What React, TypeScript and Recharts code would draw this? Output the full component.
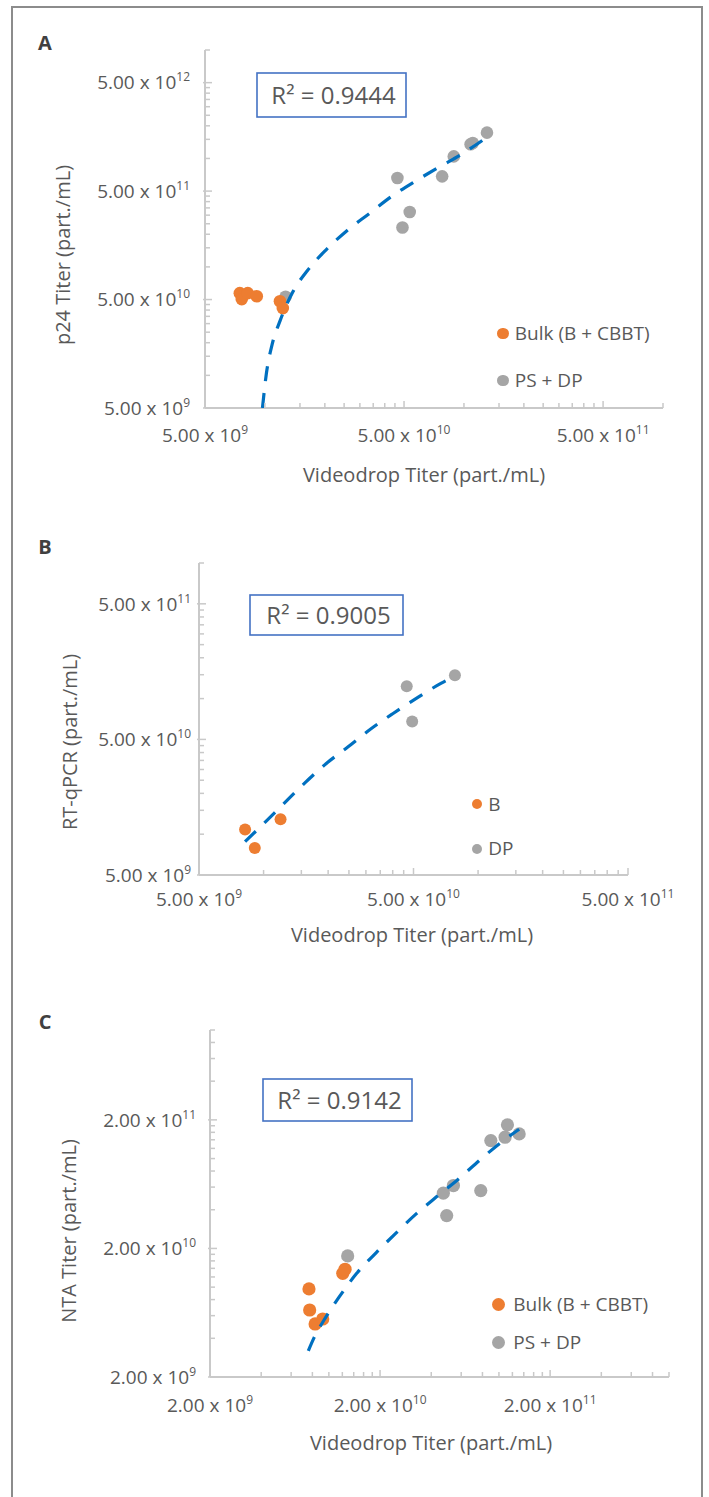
import React from 'react';
import { ScatterChart, Scatter, XAxis, YAxis, Legend } from 'recharts';

// the figure frame sits in the 8px page margin, so drop the body margin
if (typeof document !== 'undefined') document.body.style.margin = '0';

const ORANGE = '#ED7D31';
const GRAY = '#A5A5A5';
const TREND = '#0070C0';
const AXIS = '#C9C9C9';
const TEXT = '#595959';
const FONT = '"Open Sans", sans-serif';

// Excel log axis: minor ticks at 2x..9x of each major
const MINOR_STEPS = [2, 3, 4, 5, 6, 7, 8, 9];

// ---- Panel A: p24 vs Videodrop ----
const A_X_MAJOR = [5e9, 5e10, 5e11];
const A_Y_MAJOR = [5e9, 5e10, 5e11, 5e12];
const A_X_DOMAIN = [5e9, 1e12];
const A_Y_DOMAIN = [5e9, 1e13];
const A_NAMES = ['Bulk (B + CBBT)', 'PS + DP'];
const A_BULK_X = [7.48e9, 7.65e9, 8.2e9, 9.1e9, 1.19e10, 1.23e10];
const A_BULK_Y = [5.73e10, 5.05e10, 5.73e10, 5.37e10, 4.83e10, 4.17e10];
const A_PS_X = [1.27e10, 4.63e10, 4.91e10, 5.34e10, 7.77e10, 8.89e10, 1.08e11, 1.107e11, 1.305e11];
const A_PS_Y = [5.3e10, 6.6e11, 2.31e11, 3.21e11, 6.84e11, 1.045e12, 1.35e12, 1.39e12, 1.73e12];
const A_TREND_X = [9.72e9, 1.017e10, 1.085e10, 1.195e10, 1.382e10, 1.64e10, 2.04e10, 2.6e10, 3.34e10, 4.34e10, 5.72e10, 7.48e10, 9.78e10, 1.305e11];
const A_TREND_Y = [5.0e9, 1.04e10, 1.9e10, 3.23e10, 5.89e10, 9.33e10, 1.45e11, 2.18e11, 3.1e11, 4.48e11, 6.2e11, 8.3e11, 1.1e12, 1.57e12];

// ---- Panel B: RT-qPCR vs Videodrop ----
const B_X_MAJOR = [5e9, 5e10, 5e11];
const B_Y_MAJOR = [5e9, 5e10, 5e11];
const B_X_DOMAIN = [5e9, 5e11];
const B_Y_DOMAIN = [5e9, 1e12];
const B_NAMES = ['B', 'DP'];
const B_BULK_X = [8.2e9, 9.1e9, 1.2e10];
const B_BULK_Y = [1.084e10, 7.9e9, 1.29e10];
const B_DP_X = [4.65e10, 4.93e10, 7.8e10];
const B_DP_Y = [1.233e11, 6.78e10, 1.486e11];
const B_TREND_X = [8.2e9, 1.04e10, 1.576e10, 1.955e10, 2.47e10, 3.17e10, 4.0e10, 5.24e10, 6.74e10, 7.8e10];
const B_TREND_Y = [8.8e9, 1.27e10, 2.43e10, 3.31e10, 4.39e10, 5.99e10, 7.73e10, 1.02e11, 1.3e11, 1.46e11];

// ---- Panel C: NTA vs Videodrop ----
const C_X_MAJOR = [2e9, 2e10, 2e11];
const C_Y_MAJOR = [2e9, 2e10, 2e11];
const C_X_DOMAIN = [2e9, 1e12];
const C_Y_DOMAIN = [2e9, 1e12];
const C_NAMES = ['Bulk (B + CBBT)', 'PS + DP'];
const C_BULK_X = [7.64e9, 7.71e9, 8.3e9, 9.2e9, 1.207e10, 1.245e10];
const C_BULK_Y = [9.68e9, 6.64e9, 5.17e9, 5.65e9, 1.28e10, 1.378e10];
const C_PS_X = [1.29e10, 4.71e10, 5.4e10, 4.93e10, 7.82e10, 8.96e10, 1.087e11, 1.122e11, 1.315e11];
const C_PS_Y = [1.75e10, 5.38e10, 6.17e10, 3.6e10, 5.64e10, 1.38e11, 1.466e11, 1.83e11, 1.556e11];
const C_TREND_X = [7.57e9, 8.2e9, 9.37e9, 1.153e10, 1.458e10, 1.894e10, 2.48e10, 3.26e10, 4.31e10, 5.7e10, 7.75e10, 1.016e11, 1.315e11];
const C_TREND_Y = [3.2e9, 4.07e9, 5.55e9, 8.43e9, 1.28e10, 1.85e10, 2.63e10, 3.71e10, 5.06e10, 6.82e10, 9.77e10, 1.32e11, 1.69e11];

const zip = (xs: number[], ys: number[]) => xs.map((x, i) => ({ x, y: ys[i] }));

const logTicks = (majors: number[], domain: number[]) =>
  majors
    .flatMap((m) => [m, ...MINOR_STEPS.map((k) => m * k)])
    .filter((v) => v >= domain[0] && v <= domain[1] * 1.000001);

const X_H = 40;
const Y_W = 60;

function SciText({ x, y, anchor, value }: any) {
  const e = Math.floor(Math.log10(value) + 1e-9);
  const m = (value / Math.pow(10, e)).toFixed(2);
  return (
    <text x={x} y={y} textAnchor={anchor} fill={TEXT} fontSize={19} fontFamily={FONT}>
      {m} x 10<tspan dy={-8} fontSize={12}>{e}</tspan>
    </text>
  );
}

function XTick({ x, y, payload, majors, dy }: any) {
  const major = majors.includes(payload.value);
  return (
    <g>
      <line x1={x} x2={x} y1={y} y2={y - (major ? 7 : 5)} stroke={AXIS} strokeWidth={1.5} />
      {major && <SciText x={x} y={y + dy} anchor="middle" value={payload.value} />}
    </g>
  );
}

function YTick({ x, y, payload, majors, gap }: any) {
  const major = majors.includes(payload.value);
  return (
    <g>
      <line x1={major ? x - 2 : x} x2={x + (major ? 7 : 5)} y1={y} y2={y} stroke={AXIS} strokeWidth={1.5} />
      {major && <SciText x={x - gap} y={y + 6.8} anchor="end" value={payload.value} />}
    </g>
  );
}

function LegendBox({ payload, names, lg }: any) {
  const items = names
    .map((n: string) => (payload || []).find((p: any) => p.value === n))
    .filter(Boolean);
  return (
    <div style={{ fontFamily: FONT, fontSize: lg.fontSize, color: TEXT }}>
      {items.map((p: any) => (
        <div key={p.value} style={{ display: 'flex', alignItems: 'center', height: lg.gap, whiteSpace: 'nowrap' }}>
          <span style={{ display: 'inline-block', width: 2 * lg.r, height: 2 * lg.r, borderRadius: '50%', background: p.color }} />
          <span style={{ marginLeft: lg.textGap, lineHeight: 1 }}>{p.value}</span>
        </div>
      ))}
    </div>
  );
}

function Panel({ cfg }: any) {
  const { box, plot, lg } = cfg;
  const margin = {
    left: plot.x0 - box.left - Y_W,
    right: box.left + box.width - plot.x1,
    top: plot.y0 - box.top,
    bottom: box.top + box.height - plot.y1 - X_H,
  };
  const dot = (fill: string) => (p: any) => <circle cx={p.cx} cy={p.cy} r={cfg.r} fill={fill} />;
  return (
    <div style={{ position: 'absolute', left: box.left, top: box.top }}>
      <ScatterChart width={box.width} height={box.height} margin={margin}>
        <XAxis
          type="number"
          dataKey="x"
          scale="log"
          domain={cfg.xDomain}
          allowDataOverflow
          ticks={logTicks(cfg.xMajor, cfg.xDomain)}
          interval={0}
          tickSize={0}
          tickMargin={0}
          tickLine={false}
          height={X_H}
          axisLine={{ stroke: AXIS, strokeWidth: 2 }}
          tick={(p: any) => <XTick {...p} majors={cfg.xMajor} dy={cfg.xLabelDy} />}
        />
        <YAxis
          type="number"
          dataKey="y"
          scale="log"
          domain={cfg.yDomain}
          allowDataOverflow
          ticks={logTicks(cfg.yMajor, cfg.yDomain)}
          interval={0}
          tickSize={0}
          tickMargin={0}
          tickLine={false}
          width={Y_W}
          axisLine={{ stroke: AXIS, strokeWidth: 2 }}
          tick={(p: any) => <YTick {...p} majors={cfg.yMajor} gap={cfg.yLabelGap} />}
        />
        <Scatter name={cfg.names[1]} data={cfg.other} fill={GRAY} shape={dot(GRAY)} isAnimationActive={false} />
        <Scatter name={cfg.names[0]} data={cfg.bulk} fill={ORANGE} shape={dot(ORANGE)} isAnimationActive={false} />
        <Scatter
          data={cfg.trend}
          fill={TREND}
          legendType="none"
          shape={() => <g />}
          line={{ stroke: TREND, strokeWidth: 3.2, strokeDasharray: '15 12' }}
          lineJointType="monotoneX"
          isAnimationActive={false}
        />
        <Legend
          layout="vertical"
          align="center"
          verticalAlign="middle"
          wrapperStyle={{ left: lg.x - lg.r - box.left, top: lg.y - lg.gap / 2 - box.top, width: 'auto' }}
          content={(p: any) => <LegendBox payload={p.payload} names={cfg.names} lg={lg} />}
        />
      </ScatterChart>
    </div>
  );
}

const PANELS = [
  {
    box: { left: 20, top: 15, width: 680, height: 455 },
    plot: { x0: 205, x1: 663, y0: 50, y1: 408 },
    xDomain: A_X_DOMAIN, yDomain: A_Y_DOMAIN, xMajor: A_X_MAJOR, yMajor: A_Y_MAJOR,
    names: A_NAMES,
    bulk: zip(A_BULK_X, A_BULK_Y), other: zip(A_PS_X, A_PS_Y), trend: zip(A_TREND_X, A_TREND_Y),
    r: 6.3, xLabelDy: 34, yLabelGap: 15,
    lg: { x: 503, y: 333.5, gap: 47, r: 5.8, textGap: 6, fontSize: 19 },
  },
  {
    box: { left: 20, top: 540, width: 680, height: 380 },
    plot: { x0: 199, x1: 628, y0: 563, y1: 875 },
    xDomain: B_X_DOMAIN, yDomain: B_Y_DOMAIN, xMajor: B_X_MAJOR, yMajor: B_Y_MAJOR,
    names: B_NAMES,
    bulk: zip(B_BULK_X, B_BULK_Y), other: zip(B_DP_X, B_DP_Y), trend: zip(B_TREND_X, B_TREND_Y),
    r: 6, xLabelDy: 31, yLabelGap: 8,
    lg: { x: 477.3, y: 804.3, gap: 44.4, r: 5, textGap: 6, fontSize: 19 },
  },
  {
    box: { left: 20, top: 1010, width: 680, height: 420 },
    plot: { x0: 210, x1: 669, y0: 1030, y1: 1377 },
    xDomain: C_X_DOMAIN, yDomain: C_Y_DOMAIN, xMajor: C_X_MAJOR, yMajor: C_Y_MAJOR,
    names: C_NAMES,
    bulk: zip(C_BULK_X, C_BULK_Y), other: zip(C_PS_X, C_PS_Y), trend: zip(C_TREND_X, C_TREND_Y),
    r: 6.6, xLabelDy: 35, yLabelGap: 14,
    lg: { x: 498.3, y: 1305, gap: 37.7, r: 6.5, textGap: 8.5, fontSize: 19 },
  },
];

const TITLES = [
  { letter: 'A', ly: 50, yTitle: 'p24 Titer (part./mL)', ytx: 62, yty: 255, xtx: 424, xty: 481.5, r2: 'R² = 0.9444', box: [257, 73, 149, 44] },
  { letter: 'B', ly: 554, yTitle: 'RT-qPCR (part./mL)', ytx: 69, yty: 742, xtx: 412, xty: 941.5, r2: 'R² = 0.9005', box: [250, 595, 153, 40] },
  { letter: 'C', ly: 1029, yTitle: 'NTA Titer (part./mL)', ytx: 68, yty: 1231, xtx: 431, xty: 1450, r2: 'R² = 0.9142', box: [263, 1079, 149, 42] },
];

function Overlay() {
  return (
    <svg width={709} height={1497} style={{ position: 'absolute', left: 0, top: 0, pointerEvents: 'none' }}>
      {/* figure frame, open at the bottom like the cropped source */}
      <path d="M12,1497 V7 H702 V1497" fill="none" stroke="#8C8C8C" strokeWidth={2} />
      {TITLES.map((t) => {
        const [bx, by, bw, bh] = t.box;
        return (
          <g key={t.letter} fontFamily={FONT}>
            <text x={45} y={t.ly} textAnchor="middle" fontWeight={700} fontSize={20} fill="#404040">{t.letter}</text>
            <text
              x={t.ytx}
              y={t.yty}
              transform={`rotate(-90 ${t.ytx} ${t.yty})`}
              textAnchor="middle"
              dominantBaseline="central"
              fontSize={20}
              fill={TEXT}
            >
              {t.yTitle}
            </text>
            <text x={t.xtx} y={t.xty} textAnchor="middle" fontSize={20} fill={TEXT}>Videodrop Titer (part./mL)</text>
            <rect x={bx} y={by} width={bw} height={bh} fill="#ffffff" stroke="#4472C4" strokeWidth={1.6} />
            <text x={bx + bw / 2 + 2} y={by + bh / 2 + 8.6} textAnchor="middle" fontSize={24} fill={TEXT}>{t.r2}</text>
          </g>
        );
      })}
    </svg>
  );
}

export default function App() {
  return (
    <div style={{ position: 'relative', width: 709, height: 1497, overflow: 'hidden' }}>
      {PANELS.map((cfg, i) => (
        <Panel key={i} cfg={cfg} />
      ))}
      <Overlay />
    </div>
  );
}
